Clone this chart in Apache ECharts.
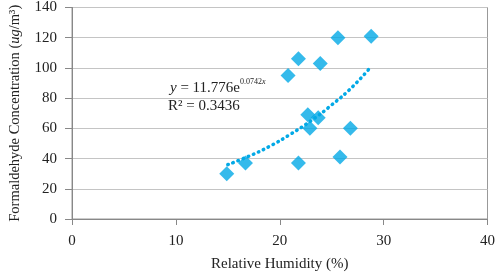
<!DOCTYPE html>
<html>
<head>
<meta charset="utf-8">
<script src="https://cdn.jsdelivr.net/npm/echarts@6/dist/echarts.min.js"></script>
<style>
  html, body { margin: 0; padding: 0; background: #fff; }
  #chart { width: 498px; height: 277px; }
</style>
</head>
<body>
<div id="chart"></div>
<script>
// measured points (relative humidity %, formaldehyde ug/m3)
const humidity = [14.9, 16.7, 21.8, 20.8, 21.8, 22.7, 22.9, 23.7, 23.9, 25.6, 25.8, 26.8, 28.8];
const formaldehyde = [30, 37, 37, 95, 106, 69, 60, 67, 103, 120, 41, 60, 121];

// exponential trend line
const trendX = [15, 17, 19, 21, 23, 25, 27, 28.8];
const trendY = [36, 41.5, 48, 56, 65, 75.5, 87.5, 101];

const xTicks = [0, 10, 20, 30, 40];

const serif = '"Liberation Serif", "DejaVu Serif", serif';
const blue = '#03A9E6';

const chart = echarts.init(document.getElementById('chart'));

const option = {
    backgroundColor: '#fff',
    animation: false,
    textStyle: { fontFamily: serif },
    grid: {
        left: 69,
        right: 10,
        top: 7,
        bottom: 56,
        show: true,
        borderColor: '#999',
        borderWidth: 1
    },
    xAxis: {
        type: 'value',
        min: xTicks[0],
        max: xTicks[xTicks.length - 1],
        interval: 10,
        name: 'Relative Humidity (%)',
        nameLocation: 'middle',
        nameGap: 38,
        nameTextStyle: { fontFamily: serif, fontSize: 15, color: '#222' },
        axisLine: { show: true, lineStyle: { color: '#888' } },
        axisTick: { show: true, length: 6, lineStyle: { color: '#888' } },
        axisLabel: { fontFamily: serif, fontSize: 15, color: '#222', margin: 15 },
        splitLine: { show: false }
    },
    yAxis: {
        type: 'value',
        min: 0,
        max: 140,
        interval: 20,
        name: '{n|Formaldehyde Concentration (}{i|ug}{n|/m³)}',
        nameLocation: 'middle',
        nameGap: 49,
        nameTextStyle: {
            rich: {
                n: { fontFamily: serif, fontSize: 14.5, color: '#222' },
                i: { fontFamily: serif, fontSize: 14.5, color: '#222', fontStyle: 'italic' }
            }
        },
        axisLine: { show: true, lineStyle: { color: '#888' } },
        axisTick: { show: true, inside: false, length: 7, lineStyle: { color: '#888' } },
        axisLabel: { fontFamily: serif, fontSize: 15, color: '#222', margin: 15 },
        splitLine: { show: true, lineStyle: { color: '#c4c4c4' } }
    },
    series: [
        {
            type: 'line',
            data: trendX.map((x, i) => [x, trendY[i]]),
            smooth: true,
            showSymbol: false,
            symbol: 'none',
            lineStyle: { color: blue, width: 3.5, type: [0.5, 5], cap: 'round' },
            z: 2
        },
        {
            type: 'scatter',
            data: humidity.map((x, i) => [x, formaldehyde[i]]),
            symbol: 'diamond',
            symbolSize: [15, 15],
            itemStyle: { color: blue },
            z: 3
        }
    ],
    graphic: [
        {
            type: 'text',
            left: 170,
            top: 81,
            style: {
                text: '{i|y}{n| = 11.776e}',
                rich: {
                    n: { fontFamily: serif, fontSize: 15, fill: '#222' },
                    i: { fontFamily: serif, fontSize: 15, fill: '#222', fontStyle: 'italic' }
                }
            }
        },
        {
            type: 'text',
            left: 240,
            top: 78,
            style: {
                text: '{n|0.0742}{i|x}',
                rich: {
                    n: { fontFamily: serif, fontSize: 8, fill: '#222' },
                    i: { fontFamily: serif, fontSize: 8, fill: '#222', fontStyle: 'italic' }
                }
            }
        },
        {
            type: 'text',
            left: 168,
            top: 99,
            style: { text: 'R² = 0.3436', fontFamily: serif, fontSize: 15, fill: '#222' }
        }
    ]
};

chart.setOption(option, true);
</script>
</body>
</html>
